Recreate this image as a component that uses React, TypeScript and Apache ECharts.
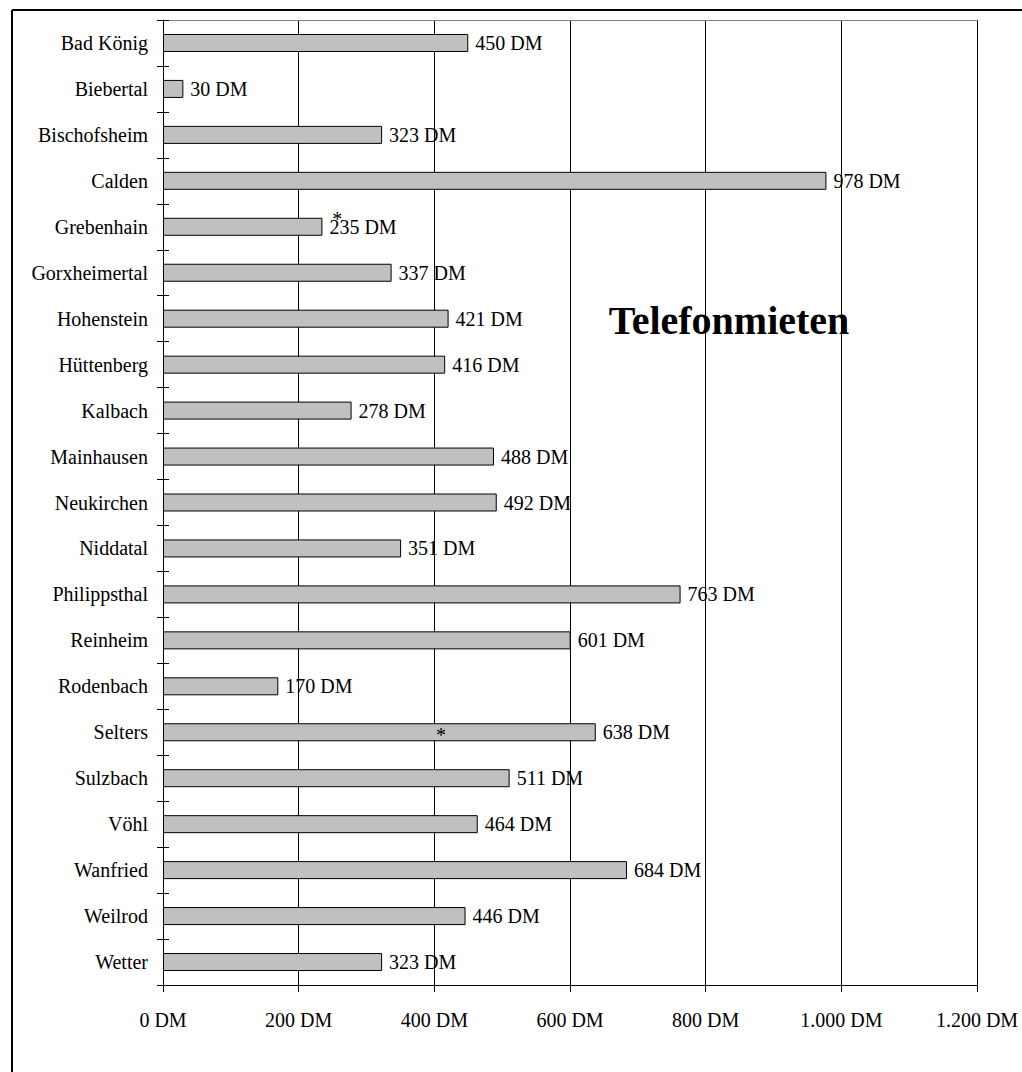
import React, { useEffect, useRef } from "react";
import * as echarts from "echarts";

const categories = [
  "Bad König", "Biebertal", "Bischofsheim", "Calden", "Grebenhain", "Gorxheimertal",
  "Hohenstein", "Hüttenberg", "Kalbach", "Mainhausen", "Neukirchen", "Niddatal",
  "Philippsthal", "Reinheim", "Rodenbach", "Selters", "Sulzbach", "Vöhl",
  "Wanfried", "Weilrod", "Wetter",
];
const values = [450, 30, 323, 978, 235, 337, 421, 416, 278, 488, 492, 351, 763, 601, 170, 638, 511, 464, 684, 446, 323];
const axisMin = 0;
const axisMax = 1200;
const axisStep = 200;
const titleText = "Telefonmieten";
const annotations = [
  { category: "Grebenhain", value: 257, dy: -8 },
  { category: "Selters", value: 410, dy: 3 },
];

const FONT = "'Liberation Serif', 'Times New Roman', serif";

function fmt(v: number): string {
  return String(v).replace(/\B(?=(\d{3})+(?!\d))/g, ".") + " DM";
}

export default function App() {
  const ref = useRef<HTMLDivElement>(null);
  useEffect(() => {
    if (!ref.current) return;
    const chart = echarts.init(ref.current, undefined, { renderer: "svg" });
    const yBase = {
      type: "category" as const,
      data: categories,
      inverse: true,
      position: "left" as const,
    };
    chart.setOption({
      animation: false,
      backgroundColor: "#ffffff",
      textStyle: { fontFamily: FONT },
      grid: { left: 163, right: 45, top: 20, bottom: 87, containLabel: false },
      xAxis: [
        {
          type: "value",
          min: axisMin,
          max: axisMax,
          interval: axisStep,
          position: "bottom",
          axisLine: { show: true, lineStyle: { color: "#000", width: 1 } },
          axisTick: { show: true, length: 7, lineStyle: { color: "#000" } },
          splitLine: { show: true, lineStyle: { color: "#000", width: 1 } },
          axisLabel: {
            formatter: (v: number) => fmt(v),
            fontSize: 20,
            color: "#000",
            fontFamily: FONT,
            margin: 25,
          },
        },
        {
          type: "value",
          min: axisMin,
          max: axisMax,
          interval: axisStep,
          position: "top",
          axisLine: { show: true, lineStyle: { color: "#808080", width: 1 } },
          axisTick: { show: false },
          splitLine: { show: false },
          axisLabel: { show: false },
        },
      ],
      yAxis: [
        {
          ...yBase,
          axisLine: { show: true, lineStyle: { color: "#000", width: 1 } },
          axisTick: { show: true, inside: false, length: 6, lineStyle: { color: "#000" } },
          axisLabel: { fontSize: 20, color: "#000", fontFamily: FONT, margin: 15 },
          splitLine: { show: false },
        },
        {
          ...yBase,
          axisLine: { show: false },
          axisTick: { show: true, inside: true, length: 6, lineStyle: { color: "#000" } },
          axisLabel: { show: false },
          splitLine: { show: false },
        },
      ],
      series: [
        {
          type: "bar",
          xAxisIndex: 0,
          yAxisIndex: 0,
          data: values,
          barWidth: 18,
          itemStyle: { color: "#c0c0c0", borderColor: "#000", borderWidth: 1 },
          label: {
            show: true,
            position: "right",
            distance: 7,
            formatter: (p: any) => fmt(p.value),
            fontSize: 20,
            color: "#000",
            fontFamily: FONT,
          },
          markPoint: {
            symbol: "circle",
            symbolSize: 0,
            data: annotations.map((a) => ({
              coord: [a.value, a.category],
              label: {
                show: true,
                formatter: "*",
                position: "inside",
                offset: [0, a.dy],
                fontSize: 20,
                color: "#000",
                fontFamily: FONT,
              },
            })),
          },
        },
      ],
      graphic: [
        {
          type: "text",
          x: 729,
          y: 320,
          style: {
            text: titleText,
            font: `bold 40px ${FONT}`,
            fill: "#000",
            align: "center",
            verticalAlign: "middle",
            textAlign: "center",
            textVerticalAlign: "middle",
          },
        },
        {
          type: "line",
          shape: { x1: 12, y1: 10, x2: 1022, y2: 10 },
          style: { stroke: "#000", lineWidth: 2 },
        },
        {
          type: "line",
          shape: { x1: 12, y1: 10, x2: 12, y2: 1072 },
          style: { stroke: "#000", lineWidth: 2 },
        },
      ],
    });
    return () => chart.dispose();
  }, []);
  return (
    <div
      ref={ref}
      style={{ position: "fixed", left: 0, top: 0, width: 1022, height: 1072 }}
    />
  );
}
